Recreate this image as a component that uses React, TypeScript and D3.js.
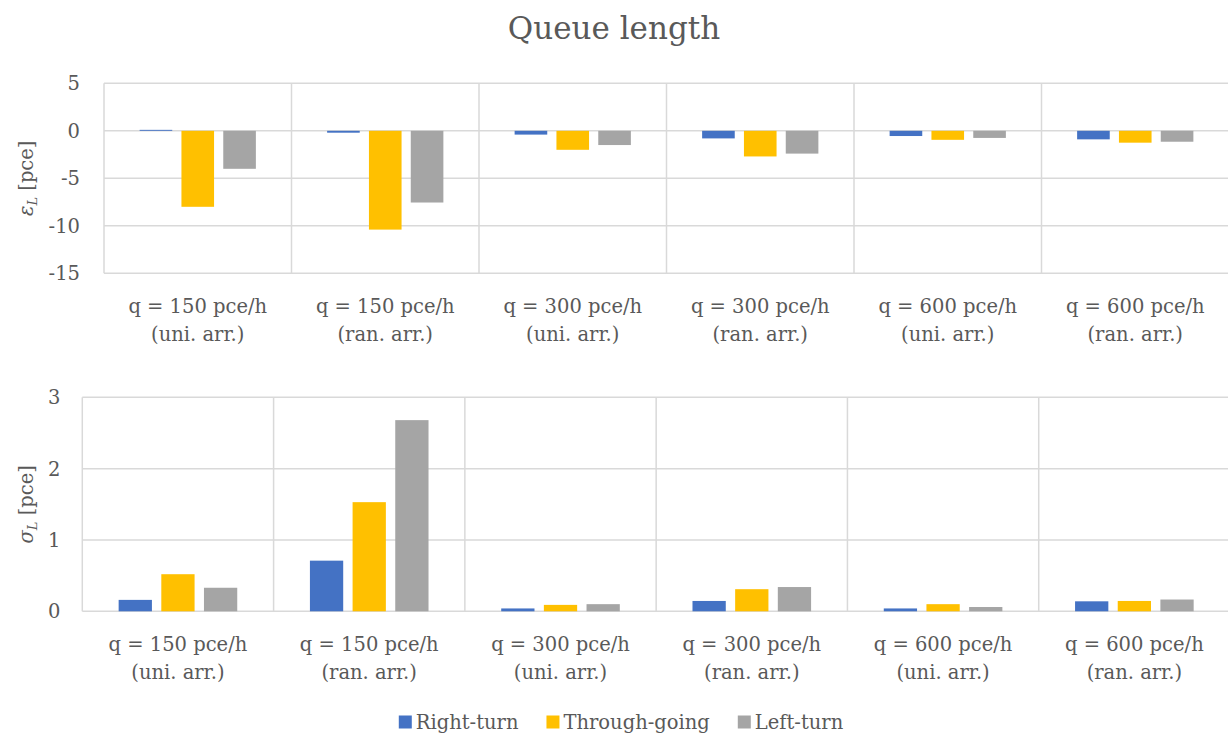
import React, { useEffect, useRef } from "react";
import * as d3 from "d3";

const catLine1 = ["q = 150 pce/h", "q = 150 pce/h", "q = 300 pce/h", "q = 300 pce/h", "q = 600 pce/h", "q = 600 pce/h"];
const catLine2 = ["(uni. arr.)", "(ran. arr.)", "(uni. arr.)", "(ran. arr.)", "(uni. arr.)", "(ran. arr.)"];
const series = ["Right-turn", "Through-going", "Left-turn"];
const colors = ["#4472C4", "#FFC000", "#A5A5A5"];

// mean error of queue length
const errRight = [0.1, -0.2, -0.4, -0.8, -0.55, -0.9];
const errThrough = [-8.0, -10.4, -2.0, -2.7, -0.95, -1.25];
const errLeft = [-4.0, -7.55, -1.5, -2.4, -0.75, -1.15];

// standard deviation of queue length
const sdRight = [0.16, 0.71, 0.04, 0.145, 0.04, 0.14];
const sdThrough = [0.52, 1.53, 0.09, 0.31, 0.1, 0.145];
const sdLeft = [0.33, 2.68, 0.1, 0.34, 0.06, 0.165];

const errTicks = [5, 0, -5, -10, -15];
const sdTicks = [0, 1, 2, 3];

const W = 1228;
const H = 736;
const FONT = "'DejaVu Serif', serif";
const FS = "19.5px";
const TEXT = "#595959";
const GRID = "#D9D9D9";

const App = () => {
	const ref = useRef<SVGSVGElement>(null);

	useEffect(() => {
		const svg = d3.select(ref.current);
		svg.selectAll("*").remove();

		svg.append("text")
			.attr("x", W / 2)
			.attr("y", 39)
			.attr("text-anchor", "middle")
			.attr("fill", TEXT)
			.style("font-family", FONT)
			.style("font-size", "31px")
			.text("Queue length");

		const panels = [
			{ left: 104, right: 1229, top: 83.3, bottom: 273.3, domain: [-15, 5], ticks: errTicks, data: [errRight, errThrough, errLeft], sym: "ε", tickGap: 24 },
			{ left: 82.3, right: 1230, top: 397.3, bottom: 611.3, domain: [0, 3], ticks: sdTicks, data: [sdRight, sdThrough, sdLeft], sym: "σ", tickGap: 22 },
		];

		panels.forEach((p) => {
			const g = svg.append("g");
			const y = d3.scaleLinear().domain(p.domain).range([p.bottom, p.top]);
			const x0 = d3.scaleBand<number>().domain(d3.range(catLine1.length)).range([p.left, p.right]);
			const bw = x0.bandwidth();
			const x1 = d3.scaleBand<number>().domain(d3.range(series.length)).range([bw * 0.19, bw * 0.81]).paddingInner(0.22);

			// horizontal gridlines
			g.selectAll(".hg")
				.data(p.ticks)
				.enter()
				.append("line")
				.attr("x1", p.left)
				.attr("x2", p.right)
				.attr("y1", d => y(d))
				.attr("y2", d => y(d))
				.attr("stroke", GRID)
				.attr("stroke-width", 1.5);

			// category separators
			g.selectAll(".vg")
				.data(d3.range(catLine1.length + 1))
				.enter()
				.append("line")
				.attr("x1", d => p.left + d * bw)
				.attr("x2", d => p.left + d * bw)
				.attr("y1", p.top)
				.attr("y2", p.bottom)
				.attr("stroke", GRID)
				.attr("stroke-width", 1.5);

			// bars
			p.data.forEach((vals, si) => {
				g.selectAll(".bar" + si)
					.data(vals)
					.enter()
					.append("rect")
					.attr("x", (d, i) => (x0(i) as number) + (x1(si) as number))
					.attr("width", x1.bandwidth())
					.attr("y", d => y(Math.max(0, d)))
					.attr("height", d => Math.abs(y(d) - y(0)))
					.attr("fill", colors[si]);
			});

			// y tick labels
			g.selectAll(".yt")
				.data(p.ticks)
				.enter()
				.append("text")
				.attr("x", p.left - p.tickGap)
				.attr("y", d => y(d))
				.attr("dy", "0.36em")
				.attr("text-anchor", "end")
				.attr("fill", TEXT)
				.style("font-family", FONT)
				.style("font-size", FS)
				.text(d => String(d));

			// category labels
			const cl = g.selectAll(".cl")
				.data(catLine1)
				.enter()
				.append("text")
				.attr("text-anchor", "middle")
				.attr("fill", TEXT)
				.style("font-family", FONT)
				.style("font-size", FS);
			cl.append("tspan")
				.attr("x", (d, i) => (x0(i) as number) + bw / 2)
				.attr("y", p.bottom + 40)
				.text(d => d);
			cl.append("tspan")
				.attr("x", (d, i) => (x0(i) as number) + bw / 2)
				.attr("y", p.bottom + 68)
				.text((d, i) => catLine2[i]);

			// y axis title
			const yt = g.append("text")
				.attr("transform", `translate(26, ${(p.top + p.bottom) / 2}) rotate(-90)`)
				.attr("dy", "0.36em")
				.attr("text-anchor", "middle")
				.attr("fill", TEXT)
				.style("font-family", FONT)
				.style("font-size", FS);
			yt.append("tspan").style("font-style", "italic").text(p.sym);
			yt.append("tspan").style("font-style", "italic").style("font-size", "13px").attr("dy", "4").text("L");
			yt.append("tspan").attr("dy", "-4").text(" [pce]");
		});

		// legend
		const lg = svg.append("g");
		let cx = 0;
		series.forEach((s, i) => {
			const item = lg.append("g").attr("transform", `translate(${cx},0)`);
			item.append("rect")
				.attr("x", 0)
				.attr("y", 715.5)
				.attr("width", 13)
				.attr("height", 13)
				.attr("fill", colors[i]);
			const t = item.append("text")
				.attr("x", 17)
				.attr("y", 728.5)
				.attr("fill", TEXT)
				.style("font-family", FONT)
				.style("font-size", FS)
				.text(s);
			const tw = (t.node() as SVGTextElement).getComputedTextLength();
			cx += 17 + tw + 28;
		});
		const total = cx - 28;
		lg.attr("transform", `translate(${621 - total / 2},0)`);
	}, []);

	return (
		<svg
			ref={ref}
			width={W}
			height={H}
			style={{ position: "absolute", left: 0, top: 0, background: "#fff", display: "block" }}
		/>
	);
};

export default App;
